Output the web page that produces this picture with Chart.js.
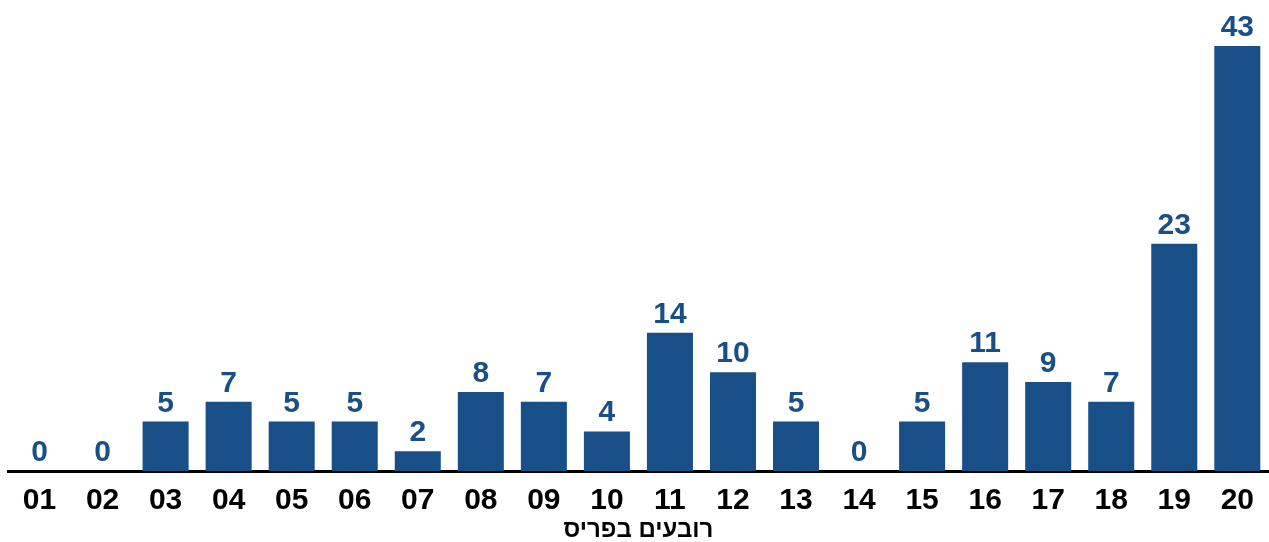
<!DOCTYPE html>
<html>
<head>
    <meta charset="utf-8">
    <title>רובעים בפריס</title>
    <style>
        body {
            margin: 0;
            padding: 0;
            background-color: #fff;
        }

        #wrap {
            width: 1269px;
            height: 542px;
        }
    </style>
    <script src="https://cdn.jsdelivr.net/npm/chart.js"></script>
</head>
<body>
    <div id="wrap">
        <canvas id="districtChart"></canvas>
    </div>

    <script>
        // arrondissements of Paris and their counts
        const districts = ["01", "02", "03", "04", "05", "06", "07", "08", "09", "10",
                           "11", "12", "13", "14", "15", "16", "17", "18", "19", "20"];
        const counts = [0, 0, 5, 7, 5, 5, 2, 8, 7, 4, 14, 10, 5, 0, 5, 11, 9, 7, 23, 43];
        const axisTitle = "רובעים בפריס";

        const barColor = "#194f87";
        const fontFamily = "'Liberation Sans', Arial, sans-serif";

        // writes the value above every bar
        const valueLabels = {
            id: "valueLabels",
            afterDatasetsDraw(chart) {
                const ctx = chart.ctx;
                const meta = chart.getDatasetMeta(0);
                ctx.save();
                ctx.fillStyle = barColor;
                ctx.font = "bold 30px " + fontFamily;
                ctx.textAlign = "center";
                ctx.textBaseline = "alphabetic";
                meta.data.forEach(function (bar, i) {
                    ctx.fillText(counts[i], bar.x, bar.y - 10);
                });
                ctx.restore();
            }
        };

        const ctx = document.getElementById("districtChart").getContext("2d");
        new Chart(ctx, {
            type: "bar",
            data: {
                labels: districts,
                datasets: [{
                    data: counts,
                    backgroundColor: barColor,
                    barPercentage: 0.73,
                    categoryPercentage: 1
                }]
            },
            options: {
                responsive: true,
                maintainAspectRatio: false,
                animation: false,
                layout: {
                    padding: { top: 46, left: 8, right: 0, bottom: 0 }
                },
                plugins: {
                    legend: { display: false },
                    tooltip: { enabled: false }
                },
                scales: {
                    x: {
                        grid: { display: false, drawTicks: false },
                        border: { color: "#000", width: 3 },
                        ticks: {
                            color: "#000",
                            padding: 15,
                            font: { family: fontFamily, size: 30, weight: "bold", lineHeight: 1 }
                        },
                        title: {
                            display: true,
                            text: axisTitle,
                            color: "#000",
                            padding: { top: -13, bottom: 0 },
                            font: { family: fontFamily, size: 24, weight: "bold", lineHeight: 1 }
                        }
                    },
                    y: {
                        display: false,
                        min: 0,
                        max: 43
                    }
                }
            },
            plugins: [valueLabels]
        });
    </script>
</body>
</html>
